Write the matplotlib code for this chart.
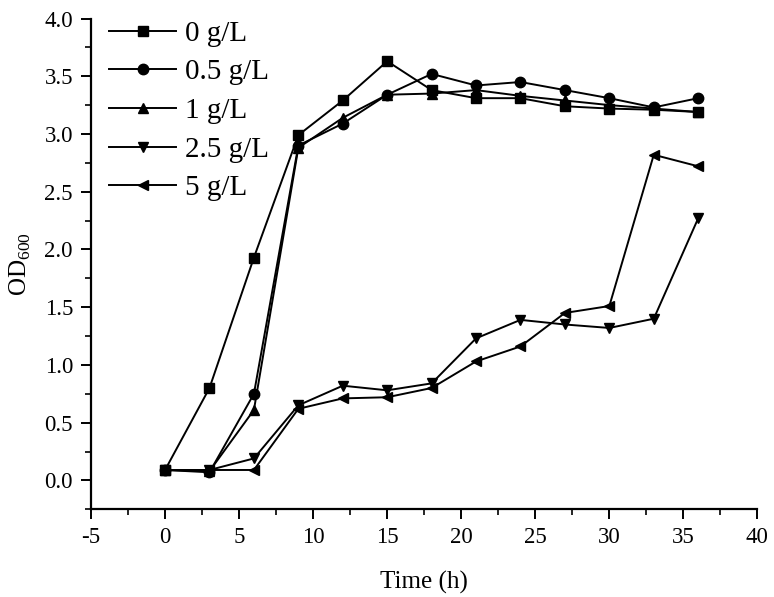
import matplotlib
matplotlib.use("Agg")
import matplotlib.pyplot as plt
from matplotlib.ticker import MultipleLocator

plt.rcParams['font.family'] = ['Liberation Serif', 'DejaVu Serif']
plt.rcParams['mathtext.fontset'] = 'custom'
plt.rcParams['mathtext.rm'] = 'Liberation Serif'

time_h = [0, 3, 6, 9, 12, 15, 18, 21, 24, 27, 30, 33, 36]
od_0 = [0.09, 0.80, 1.93, 2.99, 3.29, 3.63, 3.38, 3.31, 3.31, 3.24, 3.22, 3.21, 3.19]
od_05 = [0.09, 0.07, 0.75, 2.90, 3.09, 3.34, 3.52, 3.42, 3.45, 3.38, 3.31, 3.23, 3.31]
od_1 = [0.09, 0.08, 0.61, 2.88, 3.14, 3.34, 3.35, 3.38, 3.33, 3.29, 3.25, 3.22, 3.19]
od_25 = [0.09, 0.09, 0.19, 0.65, 0.82, 0.78, 0.84, 1.23, 1.39, 1.35, 1.32, 1.40, 2.27]
od_5 = [0.09, 0.09, 0.09, 0.62, 0.71, 0.72, 0.80, 1.03, 1.16, 1.45, 1.51, 2.82, 2.72]

series = [
    ("0 g/L", od_0, "s"),
    ("0.5 g/L", od_05, "o"),
    ("1 g/L", od_1, "^"),
    ("2.5 g/L", od_25, "v"),
    ("5 g/L", od_5, "<"),
]

fig = plt.figure(figsize=(7.74, 5.97), dpi=100)
ax = fig.add_axes([0.1176, 0.147, 0.861, 0.822])

for label, vals, m in series:
    ax.plot(time_h, vals, color="black", marker=m, markersize=7.5, linewidth=1.4, label=label)

ax.set_xlim(-5, 40)
ax.set_ylim(-0.25, 4.0)
ax.xaxis.set_major_locator(MultipleLocator(5))
ax.xaxis.set_minor_locator(MultipleLocator(2.5))
ax.yaxis.set_major_locator(MultipleLocator(0.5))
ax.yaxis.set_minor_locator(MultipleLocator(0.25))
ax.yaxis.set_major_formatter(matplotlib.ticker.FormatStrFormatter('%.1f'))
ax.xaxis.set_major_formatter(matplotlib.ticker.FormatStrFormatter('%d'))

for s in ["top", "right"]:
    ax.spines[s].set_visible(False)
for s in ["left", "bottom"]:
    ax.spines[s].set_linewidth(1.6)

ax.tick_params(which="major", direction="out", length=7, width=1.4, labelsize=16.5, pad=6)
ax.tick_params(which="minor", direction="out", length=4, width=1.2)

ax.set_xlabel("Time (h)", fontsize=18, labelpad=16)
ax.set_ylabel(r"OD$_{600}$", fontsize=18, labelpad=8)

leg = ax.legend(loc="upper left", frameon=False, fontsize=21, handlelength=2.3,
                handletextpad=0.3, labelspacing=0.42, borderaxespad=0.0,
                bbox_to_anchor=(0.01, 1.02))

fig.savefig("out.png", dpi=100)
